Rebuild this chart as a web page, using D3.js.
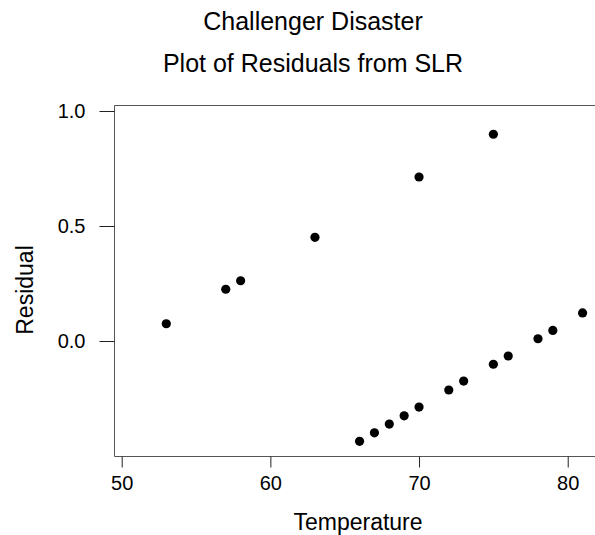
<!DOCTYPE html>
<html>
<head>
<meta charset="utf-8">
<script src="https://cdn.jsdelivr.net/npm/d3@7"></script>
<style>
  body { margin: 0; background: #fff; }
  text { font-family: "Liberation Sans", Arial, sans-serif; fill: #000; }
</style>
</head>
<body>
<svg id="chart"></svg>
<script>
// temperatures and residuals
var temps = [53, 57, 58, 63, 70, 75, 66, 67, 68, 69, 70, 72, 73, 75, 76, 78, 79, 81];
var resid = [0.075, 0.225, 0.262, 0.451, 0.713, 0.899, -0.436, -0.399, -0.361, -0.325, -0.287, -0.213, -0.174, -0.101, -0.065, 0.010, 0.046, 0.122];
var xTicks = [50, 60, 70, 80];
var yTicks = [0.0, 0.5, 1.0];
var titles = ["Challenger Disaster", "Plot of Residuals from SLR"];

function drawPlot() {
  var width = 595, height = 535;
  var pLeft = 114.5, pRight = 595, pTop = 105.5, pBottom = 456.5;

  var svg = d3.select("#chart")
    .attr("width", width)
    .attr("height", height);

  var x = d3.scaleLinear().domain([49.516, 81.836]).range([pLeft, pRight]);
  var y = d3.scaleLinear().domain([-0.502, 1.0239]).range([pBottom, pTop]);

  // frame: left, bottom, top (right edge falls off the page)
  svg.append("path")
    .attr("d", "M" + pRight + "," + pTop + "H" + pLeft + "V" + pBottom + "H" + pRight)
    .attr("fill", "none")
    .attr("stroke", "#555")
    .attr("stroke-width", 1);

  // x axis
  var xAxis = svg.append("g")
    .attr("transform", "translate(0," + pBottom + ")")
    .call(d3.axisBottom(x).tickValues(xTicks).tickFormat(d3.format("d")).tickSize(11).tickPadding(8));
  xAxis.select(".domain").remove();
  xAxis.selectAll("line").attr("stroke", "#222");
  xAxis.selectAll("text").style("font-size", "20px").attr("fill", "#000");

  // y axis
  var yAxis = svg.append("g")
    .attr("transform", "translate(" + pLeft + ",0)")
    .call(d3.axisLeft(y).tickValues(yTicks).tickFormat(d3.format(".1f")).tickSize(15).tickPadding(14));
  yAxis.select(".domain").remove();
  yAxis.selectAll("line").attr("stroke", "#222");
  yAxis.selectAll("text").style("font-size", "20px").attr("fill", "#000");

  // points
  svg.append("g").selectAll("circle")
    .data(temps)
    .enter().append("circle")
    .attr("cx", function(d) { return x(d); })
    .attr("cy", function(d, i) { return y(resid[i]); })
    .attr("r", 4.6)
    .attr("fill", "#000");

  // titles
  svg.selectAll(".title")
    .data(titles)
    .enter().append("text")
    .attr("class", "title")
    .attr("x", 313)
    .attr("y", function(d, i) { return 30 + i * 42; })
    .attr("text-anchor", "middle")
    .style("font-size", "25px")
    .text(function(d) { return d; });

  // axis labels
  svg.append("text")
    .attr("x", 358)
    .attr("y", 530)
    .attr("text-anchor", "middle")
    .style("font-size", "23px")
    .text("Temperature");

  svg.append("text")
    .attr("transform", "translate(33,290) rotate(-90)")
    .attr("text-anchor", "middle")
    .style("font-size", "23px")
    .text("Residual");
}

drawPlot();
</script>
</body>
</html>
